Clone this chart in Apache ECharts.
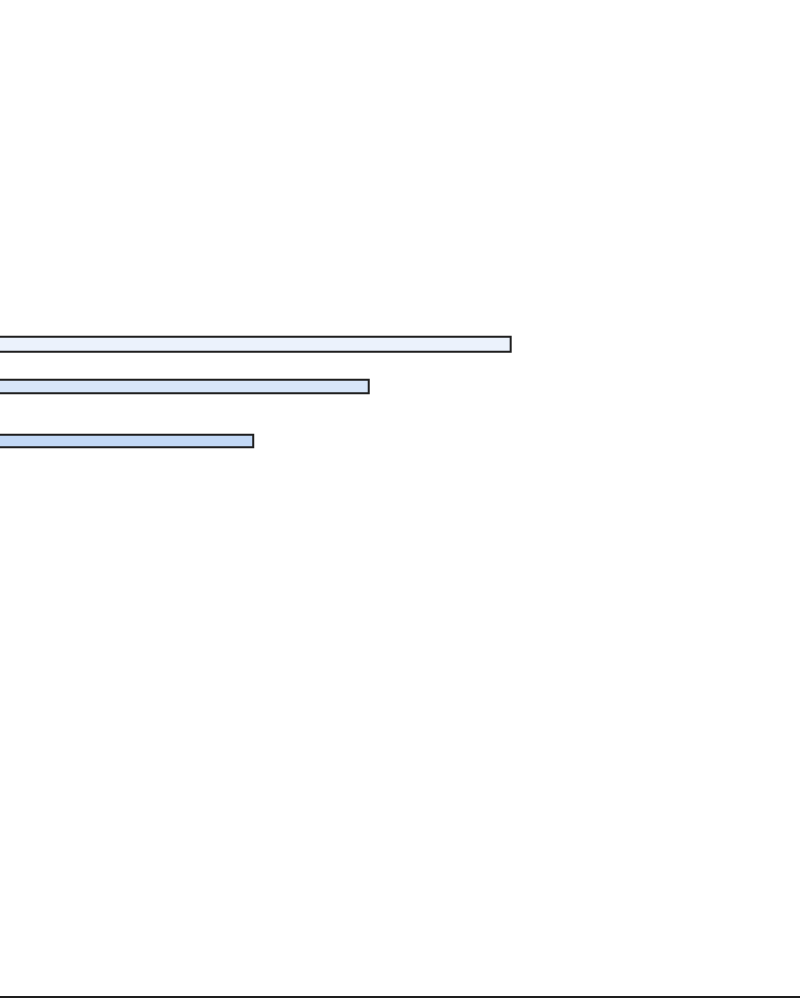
<!DOCTYPE html>
<html>
<head>
<meta charset="utf-8">
<style>
  html, body { margin: 0; padding: 0; background: #ffffff; }
  #chart { width: 800px; height: 1000px; }
</style>
<script src="https://cdn.jsdelivr.net/npm/echarts@6/dist/echarts.min.js"></script>
</head>
<body>
<div id="chart"></div>
<script>
// vertical position of each bar on a 0-100 track (top to bottom)
var barPositions = [34.25, 38.58, 44.15];
// bar lengths on a 0-100 scale
var barValues = [64.05, 46.35, 31.95];
var barColors = ['#ebf2fc', '#d7e6f9', '#c3d9f6'];
var barWidths = [17, 15.5, 14.5];

// one hidden continuous axis per bar so every bar keeps its own thickness
var yAxes = barPositions.map(function () {
  return {
    type: 'time',
    min: 0,
    max: 100,
    inverse: true,
    show: false
  };
});

var series = barValues.map(function (v, i) {
  return {
    type: 'bar',
    yAxisIndex: i,
    barWidth: barWidths[i],
    data: [[v, barPositions[i]]],
    itemStyle: {
      color: barColors[i],
      borderColor: '#1e1e1e',
      borderWidth: 2
    },
    silent: true,
    animation: false
  };
});

var chart = echarts.init(document.getElementById('chart'));
chart.setOption({
  backgroundColor: '#ffffff',
  animation: false,
  grid: { left: -2, right: 0, top: 0, bottom: 3, outerBoundsMode: 'none' },
  xAxis: {
    type: 'value',
    min: 0,
    max: 100,
    axisLine: { show: true, lineStyle: { color: '#1e1e1e', width: 2 } },
    axisTick: { show: false },
    axisLabel: { show: false },
    splitLine: { show: false }
  },
  yAxis: yAxes,
  series: series
});
</script>
</body>
</html>
